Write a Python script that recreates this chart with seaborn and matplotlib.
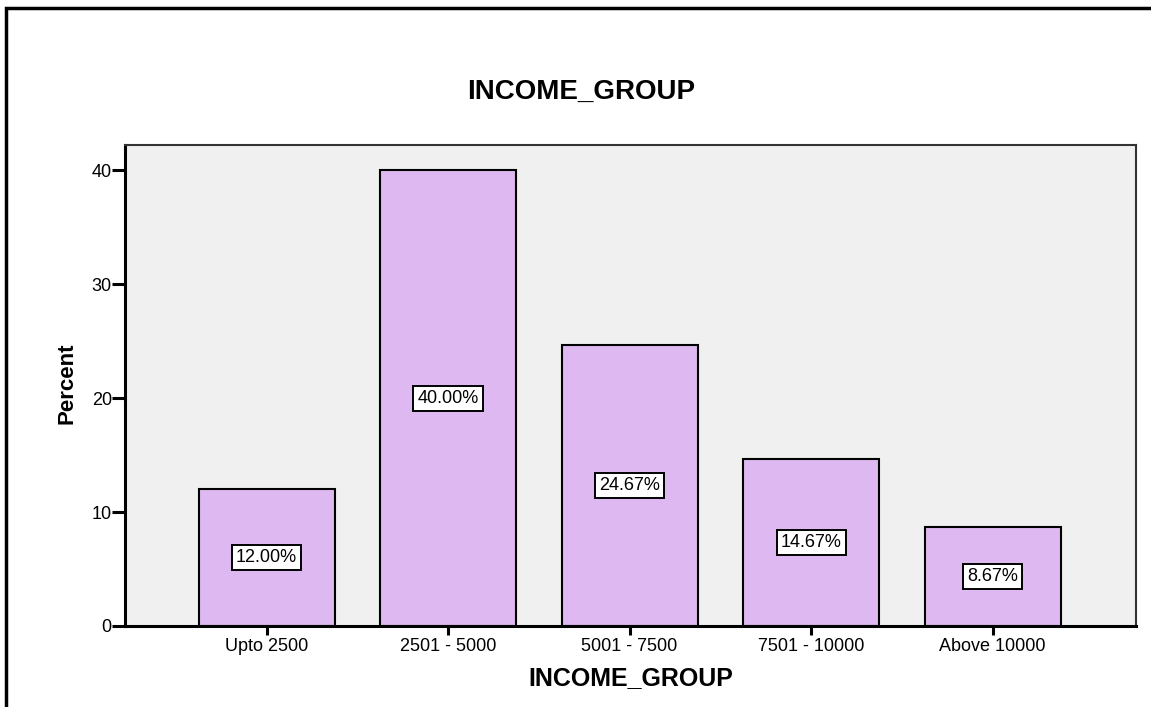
import matplotlib
matplotlib.use("Agg")
import matplotlib.pyplot as plt
import seaborn as sns
import pandas as pd
from matplotlib.patches import Rectangle

categories = ["Upto 2500", "2501 - 5000", "5001 - 7500", "7501 - 10000", "Above 10000"]
percents = [12.00, 40.00, 24.67, 14.67, 8.67]
yticks = [0, 10, 20, 30, 40]

sns.set_theme(style="white")
plt.rcParams['font.family'] = ['Liberation Sans', 'DejaVu Sans']
plt.rcParams['text.color'] = 'black'
plt.rcParams['axes.labelcolor'] = 'black'
plt.rcParams['xtick.color'] = 'black'
plt.rcParams['ytick.color'] = 'black'

df = pd.DataFrame({"INCOME_GROUP": categories, "Percent": percents})

fig = plt.figure(figsize=(11.51, 7.07), dpi=100)
W, H = 1151, 707
ax = fig.add_axes([125 / W, 1 - 626 / H, (1136 - 125) / W, (626 - 145) / H])
ax.set_facecolor("#F0F0F0")

sns.barplot(data=df, x="INCOME_GROUP", y="Percent", ax=ax, color="#DEB8F0",
            saturation=1, width=0.75, edgecolor="black", linewidth=1.5)

for i, v in enumerate(percents):
    ax.text(i, v / 2, f"{v:.2f}%", ha="center", va="center", fontsize=13,
            bbox=dict(boxstyle="square,pad=0.22", facecolor="white", edgecolor="black", linewidth=1.4))

ax.set_xlim(-0.78, 4.79)
ax.set_ylim(0, 42.2)
ax.set_yticks(yticks)
ax.set_yticklabels([str(t) for t in yticks])
ax.tick_params(axis="x", direction="out", length=6.5, width=2.2, labelsize=13, pad=2, bottom=True)
ax.tick_params(axis="y", direction="out", length=9.5, width=2.2, labelsize=13, pad=0, left=True)
for s in ["left", "bottom"]:
    ax.spines[s].set_color("black")
    ax.spines[s].set_linewidth(2.2)
for s in ["top", "right"]:
    ax.spines[s].set_color("#333333")
    ax.spines[s].set_linewidth(1.5)

ax.set_xlabel("INCOME_GROUP", fontsize=18, fontweight="bold", labelpad=8)
ax.set_ylabel("Percent", fontsize=16, fontweight="bold")
ax.yaxis.set_label_coords(-0.0465, 0.505)
fig.text(581 / W, 1 - 92 / H, "INCOME_GROUP", ha="center", va="center", fontsize=20, fontweight="bold")

fig.patches.append(Rectangle((6 / W, -0.1), 1.2, 1 - 8 / H + 0.1, transform=fig.transFigure,
                             fill=False, edgecolor="black", linewidth=2.5))

fig.savefig("out.png", dpi=100)
